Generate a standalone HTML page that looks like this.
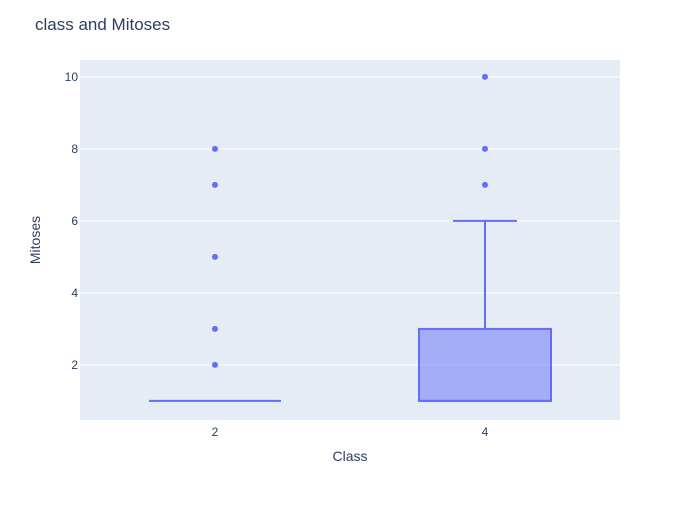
<!DOCTYPE html>
<html><head><meta charset="utf-8"><style>
body{margin:0;background:#fff;font-family:"Liberation Sans",sans-serif;}
</style></head><body>
<svg width="700" height="500" xmlns="http://www.w3.org/2000/svg" id="chart">
<rect width="700" height="500" fill="#fff"/>
<text x="35" y="30" font-size="17" fill="#2a3f5f">class and Mitoses</text>
<rect x="80" y="60" width="540" height="360" fill="#e5ecf6"/>
<g id="grid"></g>
<g id="marks"></g>
<text x="350" y="461" font-size="14" fill="#2a3f5f" text-anchor="middle">Class</text>
<text x="40" y="240" font-size="14" fill="#2a3f5f" text-anchor="middle" transform="rotate(-90 40 240)">Mitoses</text>
</svg>
<script>
const categories=["2","4"];
const q1=[1,1];
const medians=[1,1];
const q3=[1,3];
const lowerFence=[1,1];
const upperFence=[1,6];
const outliers=[[2,3,5,7,8],[7,8,10]];
const yTicks=[2,4,6,8,10];
(function(){
const ns="http://www.w3.org/2000/svg";
const yMin=0.47,yMax=10.47,pTop=60,pBot=420,pLeft=80,pRight=620;
function ys(v){return pBot-(v-yMin)/(yMax-yMin)*(pBot-pTop);}
function xs(i){const w=(pRight-pLeft)/categories.length;return pLeft+w*(i+0.5);}
function mk(t,a,p){const e=document.createElementNS(ns,t);for(const k in a)e.setAttribute(k,a[k]);p.appendChild(e);return e;}
const grid=document.getElementById('grid'),marks=document.getElementById('marks');
yTicks.forEach(t=>{
 const l=mk('line',{x1:pLeft,x2:pRight,y1:ys(t),y2:ys(t),stroke:'#fff','stroke-width':1},grid);
 
 
 const tx=mk('text',{x:pLeft-2,y:ys(t)+4,'font-size':12,fill:'#2a3f5f','text-anchor':'end'},grid);
 tx.textContent=t;
 
 
});
categories.forEach((c,i)=>{
 const cx=xs(i),hw=66,cw=32;
 const tx=mk('text',{x:cx,y:436,'font-size':12,fill:'#2a3f5f','text-anchor':'middle'},grid);
 tx.textContent=c;
 
 
 const g=mk('g',{},marks);
 
 
 mk('line',{x1:cx,x2:cx,y1:ys(q3[i]),y2:ys(upperFence[i]),stroke:'#636efa','stroke-width':2},g);
 mk('line',{x1:cx,x2:cx,y1:ys(q1[i]),y2:ys(lowerFence[i]),stroke:'#636efa','stroke-width':2},g);
 if(upperFence[i]>q3[i])mk('line',{x1:cx-cw,x2:cx+cw,y1:ys(upperFence[i]),y2:ys(upperFence[i]),stroke:'#636efa','stroke-width':2},g);
 mk('rect',{x:cx-hw,y:ys(q3[i]),width:2*hw,height:Math.max(0,ys(q1[i])-ys(q3[i])),fill:'rgba(99,110,250,0.5)',stroke:'#636efa','stroke-width':2},g);
 mk('line',{x1:cx-hw,x2:cx+hw,y1:ys(medians[i]),y2:ys(medians[i]),stroke:'#636efa','stroke-width':2},g);
 outliers[i].forEach(o=>{
  const p=mk('circle',{cx:cx,cy:ys(o),r:3,fill:'#636efa'},marks);
  
  
 });
});
})();
</script>
</body></html>
